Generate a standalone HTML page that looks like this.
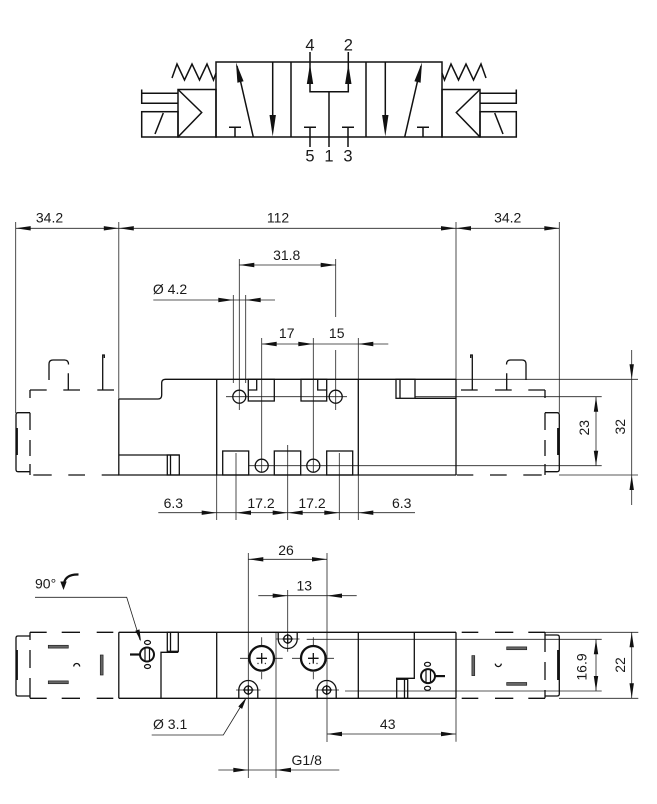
<!DOCTYPE html>
<html><head><meta charset="utf-8"><style>
html,body{margin:0;padding:0;background:#fff;}
svg{display:block;}
text{font-family:"Liberation Sans",Arial,sans-serif;fill:#1a1a1a;}
</style></head><body>
<svg width="657" height="804" viewBox="0 0 657 804" xmlns="http://www.w3.org/2000/svg">
<rect width="657" height="804" fill="#fff"/>

<!-- ============ TOP SYMBOL ============ -->
<g stroke="#111" stroke-width="1.5" fill="none">
  <rect x="216" y="62" width="226" height="75"/>
  <line x1="291" y1="62" x2="291" y2="137"/>
  <line x1="366" y1="62" x2="366" y2="137"/>
  <!-- left actuator -->
  <rect x="178" y="89.5" width="38" height="47.5"/>
  <polyline points="178,89.5 201.7,112.5 178,137"/>
  <path d="M141.7 89.5 V104 M141.7 93.3 H178 M141.7 103.3 H178"/>
  <rect x="141.7" y="111.7" width="36.3" height="25.3"/>
  <line x1="155" y1="134" x2="163.3" y2="113"/>
  <polyline points="172,78 177,64 184.5,80 192,64 199.5,80 207,64 213.5,80 216,73"/>
  <!-- right actuator -->
  <rect x="442" y="89.5" width="38" height="47.5"/>
  <polyline points="480,89.5 456.3,112.5 480,137"/>
  <path d="M516.3 89.5 V104 M516.3 93.3 H480 M516.3 103.3 H480"/>
  <rect x="480" y="111.7" width="36.3" height="25.3"/>
  <line x1="503" y1="134" x2="494.7" y2="113"/>
  <polyline points="486,78 481,64 473.5,80 466,64 458.5,80 451,64 444.5,80 442,73"/>
  <!-- left cell -->
  <line x1="253.3" y1="137" x2="237" y2="66"/>
  <path d="M229 127.3 H241 M235 127.3 V137"/>
  <line x1="272.7" y1="62" x2="272.7" y2="130"/>
  <!-- middle cell -->
  <path d="M310 52 V91.7 H348.3 V52 M329 91.7 V147"/>
  <path d="M304 127.3 H316 M310 127.3 V147 M342 127.3 H354 M348 127.3 V147"/>
  <!-- right cell -->
  <line x1="385.3" y1="62" x2="385.3" y2="130"/>
  <line x1="404.7" y1="137" x2="421" y2="66"/>
  <path d="M417 127.3 H429 M423 127.3 V137"/>
</g>
<g fill="#111">
  <polygon points="236,62.5 243.6,81.3 237.4,82.7"/>
  <polygon points="272.7,136.5 269.5,115 275.9,115"/>
  <polygon points="310,64 306.8,84 313.2,84"/>
  <polygon points="348.3,64 345.1,84 351.5,84"/>
  <polygon points="385.3,136.5 382.1,115 388.5,115"/>
  <polygon points="422,62.5 414.4,81.3 420.6,82.7"/>
</g>
<g font-size="16.5" text-anchor="middle">
  <text x="310" y="50.5">4</text>
  <text x="348.3" y="50.5">2</text>
  <text x="310" y="161.7">5</text>
  <text x="329" y="161.7">1</text>
  <text x="348" y="161.7">3</text>
</g>

<!-- ============ SIDE VIEW ============ -->
<!-- thin dimension/extension lines -->
<g stroke="#222" stroke-width="0.8" fill="none">
  <path d="M15.7 228.3 H559.3"/>
  <path d="M15.7 222 V413 M118.8 222 V399 M456 222 V379.3 M559.3 222 V412.7"/>
  <path d="M239.3 265 H335.7 M239.3 259 V410 M335.7 259 V317 M335.7 350 V410"/>
  <path d="M153.3 300 H275 M233.3 295 V383 M245.7 295 V383"/>
  <path d="M261.7 344 H388.3 M261.7 338 V472 M313.3 338 V472 M358.3 338 V379.3 M358.3 475 V520"/>
  <path d="M158.3 512.7 H415 M216.7 475 V520 M236 453 V520 M287.7 445 V520 M339.3 453 V520"/>
  <path d="M456 379.3 H638 M559 475 H638 M631.7 350 V505"/>
  <path d="M226 396.7 H347 M415 396.7 H601.7 M249 465.7 H601.7 M596 396.7 V465.7"/>
</g>
<g fill="#111">
  <polygon points="15.7,228.3 30.7,226.1 30.7,230.5"/>
  <polygon points="118.8,228.3 103.8,226.1 103.8,230.5"/>
  <polygon points="118.8,228.3 133.8,226.1 133.8,230.5"/>
  <polygon points="456,228.3 441,226.1 441,230.5"/>
  <polygon points="456,228.3 471,226.1 471,230.5"/>
  <polygon points="559.3,228.3 544.3,226.1 544.3,230.5"/>
  <polygon points="239.3,265 254.3,262.8 254.3,267.2"/>
  <polygon points="335.7,265 320.7,262.8 320.7,267.2"/>
  <polygon points="233.3,300 218.3,297.8 218.3,302.2"/>
  <polygon points="245.7,300 260.7,297.8 260.7,302.2"/>
  <polygon points="261.7,344 276.7,341.8 276.7,346.2"/>
  <polygon points="313.3,344 298.3,341.8 298.3,346.2"/>
  <polygon points="358.3,344 373.3,341.8 373.3,346.2"/>
  <polygon points="216.7,512.7 201.7,510.5 201.7,514.9"/>
  <polygon points="236,512.7 251,510.5 251,514.9"/>
  <polygon points="287.7,512.7 272.7,510.5 272.7,514.9"/>
  <polygon points="287.7,512.7 302.7,510.5 302.7,514.9"/>
  <polygon points="339.3,512.7 324.3,510.5 324.3,514.9"/>
  <polygon points="358.3,512.7 373.3,510.5 373.3,514.9"/>
  <polygon points="631.7,379.3 629.5,364.3 633.9,364.3"/>
  <polygon points="631.7,475 629.5,490 633.9,490"/>
  <polygon points="596,396.7 593.8,411.7 598.2,411.7"/>
  <polygon points="596,465.7 593.8,450.7 598.2,450.7"/>
</g>
<!-- body -->
<g stroke="#111" stroke-width="1.3" fill="none">
  <path d="M118.8 399 H158 Q161.7 399 161.7 395 V383 Q161.7 379.3 165.5 379.3 H456"/>
  <path d="M118.8 399 V475 H456"/>
  <path d="M216.7 379.3 V475 M358.3 379.3 V475 M456 379.3 V475"/>
  <path d="M118.8 455 H179.3"/>
  <rect x="167.3" y="455" width="12" height="20"/>
  <path d="M170.5 455 V475"/>
  <rect x="396" y="379.3" width="19" height="19"/>
  <path d="M400 379.3 V398.3 M415 398.3 H456"/>
  <!-- top pockets -->
  <rect x="248.3" y="379.3" width="26" height="21.7"/>
  <path d="M256.7 379.3 V390 H248.3"/>
  <rect x="301" y="379.3" width="25.7" height="21.7"/>
  <path d="M317.7 379.3 V390 H326.7"/>
  <circle cx="239.3" cy="396.7" r="6.5"/>
  <circle cx="335.7" cy="396.7" r="6.5"/>
  <!-- bottom pockets -->
  <rect x="222.7" y="451" width="26" height="24"/>
  <rect x="274.3" y="451" width="26.4" height="24"/>
  <rect x="326.7" y="451" width="26" height="24"/>
  <circle cx="261.7" cy="465.7" r="6.5"/>
  <circle cx="313.3" cy="465.7" r="6.5"/>
  <!-- left coil (dashed) -->
  <path d="M30 390 H46.7 M63.3 390 H80 M97.3 390 H114"/>
  <path d="M30 390 V398 M30 412.7 V430 M30 440 V456 M30 464 V475"/>
  <path d="M33.3 475 H51.7 M68.3 475 H85 M101.7 475 H118.8"/>
  <path d="M30 412.7 H18 Q16 412.7 16 415 V469.5 Q16 471.7 18 471.7 H30"/>
  <path d="M49 380 V364 Q49 360 53 360 H64.5 Q68.5 360 68.5 364.5 M68.3 373.3 V390 M102.7 390 V355 H104.3 V358"/>
  <!-- right coil (dashed) -->
  <path d="M461 390 H477.7 M495 390 H511.7 M528.3 390 H545"/>
  <path d="M545 390 V398 M545 412.7 V430 M545 440 V456 M545 464 V475"/>
  <path d="M456.7 475 H473.3 M490 475 H506.7 M523.3 475 H541.7"/>
  <path d="M545 412.7 H557 Q559.3 412.7 559.3 415 V469.5 Q559.3 471.7 557 471.7 H545"/>
  <path d="M526 380 V364 Q526 360 522 360 H510.5 Q506.5 360 506.5 364.5 M506.7 373.3 V390 M472.3 390 V355 H470.7 V358"/>
</g>
<path d="M16.8 428 V455 M558.2 428 V455" stroke="#111" stroke-width="2.2"/>
<g font-size="14" text-anchor="middle">
  <text x="49.5" y="222.5">34.2</text>
  <text x="278" y="222.5">112</text>
  <text x="507.7" y="222.5">34.2</text>
  <text x="286.7" y="260">31.8</text>
  <text x="170" y="294">Ø 4.2</text>
  <text x="286.7" y="338">17</text>
  <text x="336.7" y="338">15</text>
  <text x="173.3" y="508">6.3</text>
  <text x="261" y="508">17.2</text>
  <text x="312" y="508">17.2</text>
  <text x="401.7" y="508">6.3</text>
  <text transform="translate(625,426.7) rotate(-90)">32</text>
  <text transform="translate(589,427.7) rotate(-90)">23</text>
</g>

<!-- ============ TOP VIEW ============ -->
<g stroke="#222" stroke-width="0.8" fill="none">
  <path d="M248.3 559.3 H327 M248.3 553 V778 M327 553 V742"/>
  <path d="M258.3 595.7 H356.7 M287.7 590 V651.7"/>
  <path d="M327 734 H456 M456 698.3 V741.7"/>
  <path d="M218.3 770 H339.3 M276 632.3 V778"/>
  <path d="M545 632.3 H638.3 M559 698.3 H638.3 M631.7 632.3 V698.3"/>
  <path d="M306.7 639.3 H601.7 M345 691 H601.7 M596 639.3 V691"/>
  <path d="M240 658.3 H248.3 M275 658.3 H282.7 M292 658.3 H300 M326.7 658.3 H334"/>
  <path d="M261.7 637.3 V645 M261.7 672 V679.3 M313.3 637.3 V645 M313.3 672 V679.3"/>
  <path d="M276 639 H299.5 M236 690 H260.5 M315 690 H339"/>
  <path d="M35 597.3 H126.7 L140 640"/>
  <path d="M151.7 735 H223.3 L245 699.5"/>
</g>
<g fill="#111">
  <polygon points="248.3,559.3 263.3,557.1 263.3,561.5"/>
  <polygon points="327,559.3 312,557.1 312,561.5"/>
  <polygon points="287.7,595.7 272.7,593.5 272.7,597.9"/>
  <polygon points="327,595.7 342,593.5 342,597.9"/>
  <polygon points="327,734 342,731.8 342,736.2"/>
  <polygon points="456,734 441,731.8 441,736.2"/>
  <polygon points="248.3,770 233.3,767.8 233.3,772.2"/>
  <polygon points="276,770 291,767.8 291,772.2"/>
  <polygon points="631.7,632.3 629.5,647.3 633.9,647.3"/>
  <polygon points="631.7,698.3 629.5,683.3 633.9,683.3"/>
  <polygon points="596,639.3 593.8,654.3 598.2,654.3"/>
  <polygon points="596,691 593.8,676 598.2,676"/>
  <polygon points="141,641.5 139.5,629.4 135.3,630.7"/>
  <polygon points="246.5,697.5 242.1,708.9 238.3,706.5"/>
  <polygon points="63.5,590 60.3,581.5 66.7,581.5"/>
</g>
<path d="M78.5 574.5 Q66 574 64 583" stroke="#111" stroke-width="2.2" fill="none"/>
<g stroke="#111" stroke-width="1.3" fill="none">
  <path d="M118.8 632.3 H456 M118.8 698.3 H456"/>
  <path d="M118.8 632.3 V698.3 M216.7 632.3 V698.3 M358.3 632.3 V698.3 M456 632.3 V698.3"/>
  <path d="M161 698.3 V652.3 H178.3"/>
  <rect x="167.3" y="632.3" width="11" height="19"/>
  <path d="M170.5 632.3 V651.3"/>
  <path d="M414.3 632.3 V678.3 H396"/>
  <rect x="396.7" y="679.3" width="11" height="19"/>
  <path d="M404.5 679.3 V698.3"/>
  <!-- left coil dashed -->
  <path d="M30 632.3 H46.7 M61.7 632.3 H80 M96.7 632.3 H113.3"/>
  <path d="M30 698.3 H46.7 M61.7 698.3 H80 M96.7 698.3 H113.3"/>
  <path d="M30 632.3 V640 M30 650 V668 M30 678 V698.3"/>
  <path d="M30 636 H18 Q16 636 16 638 V694 Q16 696 18 696 H30"/>
  <path d="M73.7 666.5 A3 3 0 0 1 79.7 666.5"/>
  <!-- right coil dashed -->
  <path d="M461.7 632.3 H478.3 M495 632.3 H513.3 M528.3 632.3 H545"/>
  <path d="M461.7 698.3 H478.3 M495 698.3 H513.3 M528.3 698.3 H545"/>
  <path d="M545 632.3 V652 M545 662 V680 M545 690 V698.3"/>
  <path d="M545 635 H557 Q559.3 635 559.3 637 V694 Q559.3 696 557 696 H545"/>
  <path d="M495.3 663.6 A3 3 0 0 0 501.3 663.6"/>
  <!-- small mounting holes -->
  <circle cx="287.7" cy="639" r="4"/>
  <path d="M278.2 632.3 V639 A9.5 9.5 0 0 0 297.2 639 V632.3"/>
  <circle cx="248.3" cy="690" r="4"/>
  <path d="M238.8 698.3 V690 A9.5 9.5 0 0 1 257.8 690 V698.3"/>
  <circle cx="326.7" cy="690" r="4"/>
  <path d="M317.2 698.3 V690 A9.5 9.5 0 0 1 336.2 690 V698.3"/>
  <path d="M287.7 634 V644 M282.5 639 H292.9 M248.3 685 V695 M243 690 H253.6 M326.7 685 V695 M321.5 690 H332"/>
  <!-- inner crosses -->
  <path d="M261.7 653 V663.6 M256.4 658.3 H267 M313.3 653 V663.6 M308 658.3 H318.6"/>
</g>
<g fill="#666" stroke="#222" stroke-width="0.7">
  <rect x="48.3" y="645.3" width="20" height="2.8"/>
  <rect x="48.3" y="680.9" width="20" height="2.8"/>
  <rect x="100.3" y="655" width="2.8" height="20"/>
  <rect x="506.7" y="682.5" width="20" height="2.8"/>
  <rect x="506.7" y="646.9" width="20" height="2.8"/>
  <rect x="471.9" y="655.6" width="2.8" height="20"/>
</g>
<!-- big ports -->
<g stroke="#111" stroke-width="2.3" fill="none">
  <circle cx="261.7" cy="658.3" r="12.3"/>
  <circle cx="313.3" cy="658.3" r="12.3"/>
</g>
<g fill="#333">
  <circle cx="258" cy="663.5" r="0.7"/><circle cx="265.4" cy="663.5" r="0.7"/>
  <circle cx="309.6" cy="663.5" r="0.7"/><circle cx="317" cy="663.5" r="0.7"/>
</g>
<!-- manual overrides -->
<g stroke="#111" fill="none">
  <circle cx="147" cy="654.5" r="7" stroke-width="2"/>
  <path d="M145 648.5 V660.5 M149.5 648.5 V660.5" stroke-width="1.2"/>
  <path d="M130 654.5 H140" stroke-width="2.2"/>
  <ellipse cx="147.5" cy="642.5" rx="3" ry="2" stroke-width="1.2"/>
  <ellipse cx="147.5" cy="666.5" rx="3" ry="2" stroke-width="1.2"/>
  <circle cx="428" cy="676.1" r="7" stroke-width="2"/>
  <path d="M426 670 V682 M430.5 670 V682" stroke-width="1.2"/>
  <path d="M435 676.1 H445" stroke-width="2.2"/>
  <ellipse cx="427.5" cy="688.3" rx="3" ry="2" stroke-width="1.2"/>
  <ellipse cx="427.5" cy="664.3" rx="3" ry="2" stroke-width="1.2"/>
</g>
<path d="M16.8 650 V680 M558.2 650 V680" stroke="#111" stroke-width="2.2"/>
<g font-size="14">
  <text x="35" y="588.3">90°</text>
  <text x="153" y="729">Ø 3.1</text>
</g>
<g font-size="14" text-anchor="middle">
  <text x="286" y="555">26</text>
  <text x="304.3" y="590.7">13</text>
  <text x="387.7" y="729">43</text>
  <text x="306.7" y="765">G1/8</text>
  <text transform="translate(625,665) rotate(-90)">22</text>
  <text transform="translate(586.7,667) rotate(-90)">16.9</text>
</g>
</svg>
</body></html>
